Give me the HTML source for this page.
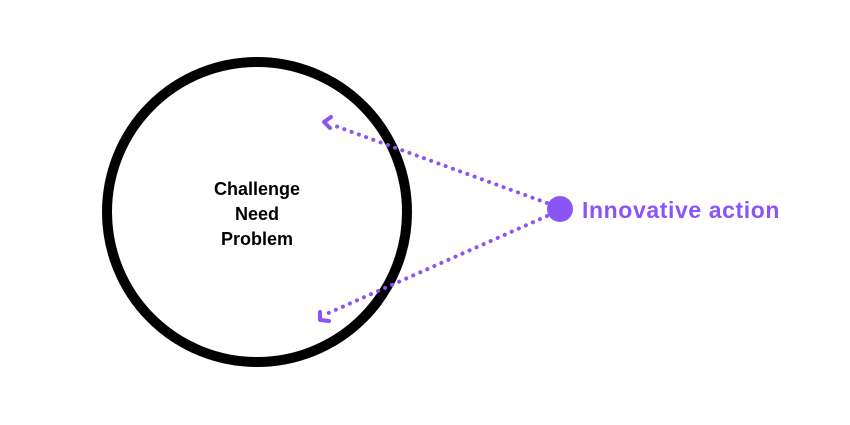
<!DOCTYPE html>
<html><head><style>html,body{margin:0;padding:0;background:#fff;width:850px;height:425px;overflow:hidden}</style></head>
<body>
<svg width="850" height="425" viewBox="0 0 850 425" xmlns="http://www.w3.org/2000/svg">
<circle cx="257" cy="212" r="150" fill="none" stroke="#000" stroke-width="10"/>
<g font-family="Liberation Sans, sans-serif" font-weight="bold" font-size="18" text-anchor="middle" fill="#000">
<text x="257" y="195">Challenge</text>
<text x="257" y="220">Need</text>
<text x="257" y="245">Problem</text>
</g>
<g stroke="#8b55f5" stroke-width="4" stroke-linecap="round" fill="none">
<line x1="547" y1="203" x2="330" y2="124" stroke-dasharray="0.1 7.6"/>
<line x1="547" y1="216" x2="324" y2="315" stroke-dasharray="0.1 7.6"/>
<polyline points="331,117 324,122 330,128" stroke-linejoin="round"/>
<polyline points="320,312 320,320 329,321" stroke-linejoin="round"/>
</g>
<circle cx="560" cy="209" r="13" fill="#8b55f5"/>
<text x="582" y="218" font-family="Liberation Sans, sans-serif" font-weight="bold" font-size="23" letter-spacing="0.6" fill="#8b55f5">Innovative action</text>
</svg>
</body></html>
